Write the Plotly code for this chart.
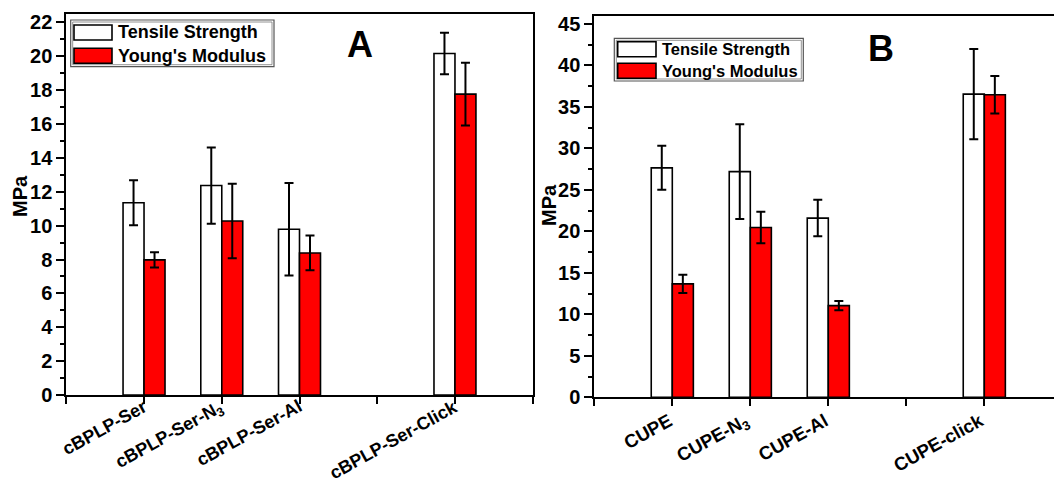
import plotly.graph_objects as go

W, H = 1054, 484
FONT = "Liberation Sans, Arial, sans-serif"

# Panel A: cBPLP-Ser series (MPa, mean and standard deviation)
groups_a = ["cBPLP-Ser", "cBPLP-Ser-N<sub>3</sub>", "cBPLP-Ser-Al", "cBPLP-Ser-Click"]
tensile_a = [11.35, 12.37, 9.79, 20.17]
tensile_a_err = [1.33, 2.25, 2.73, 1.23]
modulus_a = [7.98, 10.28, 8.39, 17.77]
modulus_a_err = [0.45, 2.20, 1.03, 1.85]

# Panel B: CUPE series (MPa, mean and standard deviation)
groups_b = ["CUPE", "CUPE-N<sub>3</sub>", "CUPE-Al", "CUPE-click"]
tensile_b = [27.66, 27.20, 21.60, 36.55]
tensile_b_err = [2.65, 5.70, 2.20, 5.43]
modulus_b = [13.67, 20.46, 11.05, 36.47]
modulus_b_err = [1.10, 1.90, 0.55, 2.26]

series_names = ["Tensile Strength", "Young's Modulus"]
BAR_W = 0.27
LABEL_ANGLE = -29


def px(x):
    return x / W


def py(y):
    return 1 - y / H


def slots_for(groups):
    # first groups sit on consecutive slots, the click sample after one empty slot
    s = list(range(1, len(groups)))
    s.append(len(groups) + 1)
    return s


fig = go.Figure()
annotations = []
shapes = []


def add_panel(groups, tens, tens_err, mod, mod_err, xa, ya, axis_y, lab_dx, lab_dy, lab_size):
    slots = slots_for(groups)
    err_style = dict(type="data", color="black", thickness=2, width=4.5)
    fig.add_trace(go.Bar(
        x=slots, y=tens, width=BAR_W, offset=-BAR_W, name=series_names[0],
        marker=dict(color="white", line=dict(color="black", width=1.6)),
        error_y=dict(array=tens_err, **err_style),
        xaxis=xa, yaxis=ya, showlegend=False))
    fig.add_trace(go.Bar(
        x=slots, y=mod, width=BAR_W, offset=0, name=series_names[1],
        marker=dict(color="#ff0000", line=dict(color="black", width=1.6)),
        error_y=dict(array=mod_err, **err_style),
        xaxis=xa, yaxis=ya, showlegend=False))
    # slanted category labels hanging from each group's tick
    for s, g in zip(slots, groups):
        annotations.append(dict(
            x=s, xref=xa, y=py(axis_y + lab_dy), yref="paper",
            xshift=lab_dx, text=g, showarrow=False, textangle=LABEL_ANGLE,
            xanchor="right", yanchor="top", borderpad=0,
            font=dict(family=FONT, size=lab_size, color="black", weight="bold")))
    return slots


add_panel(groups_a, tensile_a, tensile_a_err, modulus_a, modulus_a_err,
          "x", "y", 395, 7, 0, 18)
add_panel(groups_b, tensile_b, tensile_b_err, modulus_b, modulus_b_err,
          "x2", "y2", 397.3, 4, 11, 18.5)


def x_axis(domain, rng, anchor):
    return dict(
        domain=domain, range=rng, anchor=anchor, automargin=False,
        tick0=0, dtick=1, showticklabels=False,
        ticks="outside", ticklen=7, tickwidth=2, tickcolor="black",
        showline=True, linecolor="black", linewidth=2, mirror=True,
        showgrid=False, zeroline=False,
    )


def y_axis(domain, rng, dtick, anchor, mirror):
    return dict(
        domain=domain, range=rng, anchor=anchor, automargin=False,
        tick0=0, dtick=dtick,
        ticks="outside", ticklen=8, tickwidth=2, tickcolor="black",
        minor=dict(dtick=dtick / 2, ticks="outside", ticklen=4, tickwidth=1.5,
                   tickcolor="black", showgrid=False),
        showline=True, linecolor="black", linewidth=2, mirror=mirror,
        showgrid=False, zeroline=False,
        tickfont=dict(family=FONT, size=20, color="black", weight="bold"),
    )


fig.update_layout(
    width=W, height=H,
    margin=dict(l=0, r=0, t=0, b=0, autoexpand=False),
    paper_bgcolor="white", plot_bgcolor="white",
    barmode="overlay",
    showlegend=False,
    xaxis=x_axis([px(66.3), px(532.7)], [0, 6], "y"),
    yaxis=y_axis([py(395), py(14)], [0, 22.5], 2, "x", True),
    xaxis2=x_axis([px(594.3), 1.0], [0, (W - 594.3) / 78.0], "y2"),
    yaxis2=y_axis([py(397.3), py(15.7)], [0, 46], 5, "x2", False),
)


def text(x, y, s, size, angle=0, xanchor="center"):
    annotations.append(dict(
        x=px(x), y=py(y), xref="paper", yref="paper", text=s, showarrow=False,
        xanchor=xanchor, yanchor="middle", textangle=angle,
        font=dict(family=FONT, size=size, color="black", weight="bold")))


def rect(x0, y0, x1, y1, fill, line_color, lw):
    shapes.append(dict(
        type="rect", xref="paper", yref="paper",
        x0=px(x0), x1=px(x1), y0=py(y1), y1=py(y0),
        fillcolor=fill, line=dict(color=line_color, width=lw)))


def legend_box(x0, y0, x1, y1, sw_x0, sw_x1, sw_rows, text_x, size):
    rect(x0, y0, x1, y1, "white", "#555555", 1.2)
    rect(x0 + 2, y0 + 2, x1 - 2, y1 - 2, "rgba(0,0,0,0)", "#777777", 0.8)
    fills = ["white", "#ff0000"]
    for (r0, r1), fill, name in zip(sw_rows, fills, series_names):
        rect(sw_x0, r0, sw_x1, r1, fill, "black", 1.6)
        text(text_x, (r0 + r1) / 2, name, size, xanchor="left")


legend_box(70.7, 20, 274, 66.7, 74, 112, [(25, 40), (48.3, 63.3)], 116, 18)
legend_box(614.3, 38.3, 803.3, 81, 617.7, 656, [(41.7, 56.7), (63.3, 78.3)], 659.5, 16.5)

text(360, 44, "A", 36)
text(881, 48, "B", 36)
text(20.5, 196.5, "MPa", 20, angle=-90)
text(548.3, 204.7, "MPa", 20, angle=-90)

fig.update_layout(shapes=shapes, annotations=annotations)

fig.write_html("out.html")
